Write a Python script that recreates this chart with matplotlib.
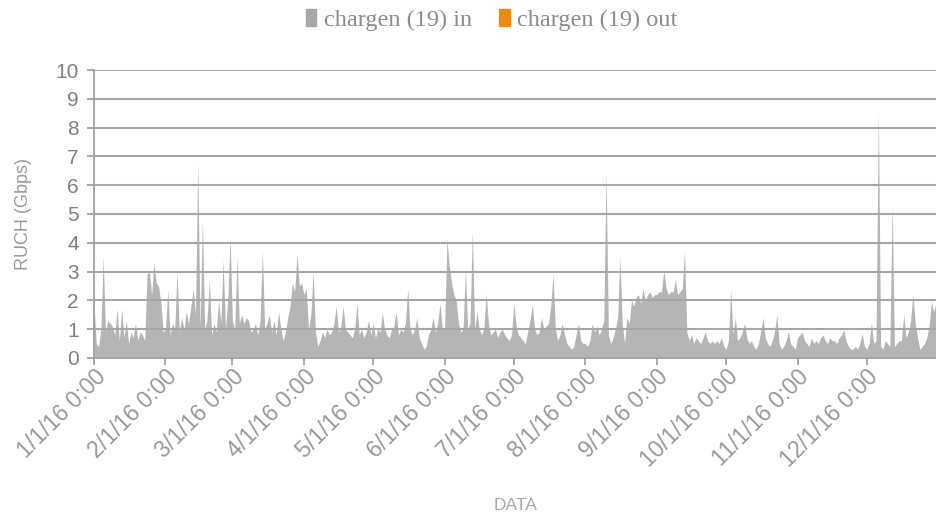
import numpy as np
import pandas as pd
import matplotlib
matplotlib.use('Agg')
import matplotlib.pyplot as plt
import matplotlib.dates as mdates

# daily "in" traffic (Gbps), one list per month of 2016
jan = [1.9, 0.5, 0.4, 1.0, 3.5, 0.9, 1.3, 1.2, 1.1, 0.8, 1.7, 0.6, 1.7, 0.7, 1.3, 0.5,
       0.9, 0.7, 1.2, 0.6, 0.9, 0.8, 0.6, 2.9, 3.0, 2.2, 3.3, 2.6, 2.5, 1.9, 0.9]
feb = [1.0, 2.35, 0.8, 1.2, 1.0, 3.0, 0.9, 1.4, 1.0, 1.6, 1.2, 1.8, 2.4, 1.5, 6.8,
       1.0, 4.8, 1.0, 1.3, 2.7, 0.8, 1.2, 0.9, 2.0, 1.2, 3.4, 1.0, 2.0, 4.2]
mar = [1.3, 1.0, 3.5, 1.2, 1.5, 1.2, 1.4, 1.3, 0.9, 1.0, 1.2, 0.8, 1.3, 3.75, 1.0, 1.2,
       1.5, 0.9, 1.3, 0.8, 1.6, 1.0, 0.6, 0.9, 1.4, 1.8, 2.6, 2.3, 3.6, 2.5, 2.6]
apr = [2.2, 2.4, 1.0, 1.5, 3.0, 0.9, 0.4, 0.6, 0.9, 0.7, 1.0, 0.8, 0.9, 1.2, 1.8,
       0.9, 1.1, 1.8, 1.0, 0.9, 0.8, 0.7, 1.0, 1.9, 0.8, 1.0, 0.7, 0.9, 1.3, 0.8]
may = [1.2, 0.7, 1.0, 0.9, 1.55, 1.0, 0.8, 0.7, 1.0, 1.1, 1.6, 0.8, 1.0, 0.9, 1.2, 2.4,
       1.0, 0.8, 1.0, 1.4, 0.7, 0.5, 0.3, 0.4, 0.8, 1.0, 1.4, 0.9, 1.2, 1.9, 1.0]
jun = [1.0, 4.15, 3.2, 2.6, 2.2, 2.0, 1.2, 0.9, 1.0, 3.1, 1.0, 1.2, 4.4, 1.0, 1.6,
       1.0, 0.8, 1.0, 2.25, 1.2, 0.8, 0.9, 1.0, 0.7, 0.9, 1.0, 0.8, 0.7, 0.6, 0.8]
jul = [1.9, 1.1, 0.8, 0.7, 0.6, 0.5, 0.9, 1.3, 1.85, 1.0, 0.8, 0.9, 1.4, 1.0, 1.1, 1.2,
       1.8, 2.9, 1.0, 0.6, 0.8, 1.2, 0.8, 0.5, 0.4, 0.3, 0.4, 0.8, 1.2, 0.6, 0.5]
aug = [0.5, 0.4, 0.6, 1.2, 0.9, 1.1, 0.8, 1.0, 1.3, 6.45, 0.8, 0.5, 0.7, 1.0, 1.4, 3.5,
       1.2, 0.5, 1.4, 1.2, 2.0, 1.8, 2.1, 2.2, 1.9, 2.4, 2.0, 2.2, 2.3, 2.1, 2.2]
sep = [2.2, 2.3, 2.3, 3.05, 2.4, 2.2, 2.3, 2.3, 2.7, 2.2, 2.3, 2.4, 3.7, 0.9, 0.6,
       0.8, 0.5, 0.7, 0.6, 0.5, 0.7, 0.9, 0.6, 0.5, 0.6, 0.5, 0.6, 0.5, 0.7, 0.4]
oct = [0.3, 0.6, 2.35, 0.8, 1.4, 0.6, 0.7, 0.9, 1.2, 0.7, 0.5, 0.6, 0.4, 0.3, 0.5, 0.9,
       1.4, 0.7, 0.5, 0.4, 0.6, 0.9, 1.5, 0.5, 0.3, 0.4, 0.6, 0.9, 0.5, 0.4, 0.3]
nov = [0.7, 0.8, 0.9, 0.6, 0.5, 0.4, 0.7, 0.5, 0.6, 0.5, 0.7, 0.8, 0.6, 0.5, 0.7,
       0.6, 0.6, 0.5, 0.7, 0.8, 0.97, 0.6, 0.4, 0.3, 0.3, 0.4, 0.3, 0.5, 0.85, 0.4]
dec = [0.3, 0.5, 1.2, 0.5, 0.6, 8.6, 0.4, 0.3, 0.6, 0.5, 0.4, 5.3, 0.4, 0.5, 0.6, 0.6,
       1.5, 0.7, 0.9, 1.3, 2.2, 1.2, 0.7, 0.3, 0.4, 0.5, 0.7, 1.1, 1.95, 1.6, 1.9]

# "out" traffic: only a few tiny blips, zero otherwise
out_dates = ['2016-05-23', '2016-08-14', '2016-08-27', '2016-09-16', '2016-10-21']
out_vals = [0.06, 0.05, 0.05, 0.05, 0.06]

tick_labels = ['1/1/16 0:00', '2/1/16 0:00', '3/1/16 0:00', '4/1/16 0:00',
               '5/1/16 0:00', '6/1/16 0:00', '7/1/16 0:00', '8/1/16 0:00',
               '9/1/16 0:00', '10/1/16 0:00', '11/1/16 0:00', '12/1/16 0:00']

dates = pd.date_range('2016-01-01', '2016-12-31', freq='D')
in_vals = jan + feb + mar + apr + may + jun + jul + aug + sep + oct + nov + dec
assert len(in_vals) == len(dates)
in_series = pd.Series(in_vals, index=dates)
out_series = pd.Series(out_vals, index=pd.to_datetime(out_dates)).reindex(dates, fill_value=0.0)

GRAY = '#B5B5B5'
ORANGE = '#EE8A12'
TEXT = '#999999'

fig = plt.figure(figsize=(9.36, 5.15), dpi=100)
ax = fig.add_axes([0.1004, 0.305, 0.8996, 0.559])

ax.fill_between(in_series.index, in_series.values, 0, color=GRAY, lw=0, zorder=1)
ax.fill_between(out_series.index, out_series.values, 0, color=ORANGE, lw=0, zorder=1.5)

ax.set_ylim(0, 10)
ax.set_yticks(range(0, 11))
ax.set_xlim(pd.Timestamp('2016-01-01'), pd.Timestamp('2016-12-31'))

month_starts = pd.date_range('2016-01-01', '2016-12-01', freq='MS')
ax.set_xticks(month_starts)
ax.set_xticklabels(tick_labels, rotation=45, ha='right', va='top', rotation_mode='anchor',
                   fontsize=16.5, color=TEXT, family=['Liberation Sans Narrow', 'Liberation Sans'])
for lab in ax.get_yticklabels():
    lab.set_family('Liberation Sans')
ax.tick_params(axis='y', labelsize=15, labelcolor='#808080', length=5, color='#999999', width=1.2, pad=6)
ax.tick_params(axis='x', length=5, color='#999999', width=1.2, pad=0)

ax.set_axisbelow(False)
ax.yaxis.grid(True, color='#A6A6A6', lw=1.5)
ax.xaxis.grid(False)
for side in ['top', 'right']:
    ax.spines[side].set_visible(False)
ax.spines['left'].set_color('#999999')
ax.spines['bottom'].set_color('#999999')
ax.spines['left'].set_linewidth(1.2)
ax.spines['bottom'].set_linewidth(1.2)

ax.set_ylabel('RUCH (Gbps)', fontsize=13, color='#9a9a9a', family='Liberation Sans', labelpad=17)
fig.text(0.551, 0.003, 'DATA', ha='center', va='bottom', fontsize=12.5, color='#a8a8a8',
         family='Liberation Sans')

# legend at the top
h_in = plt.Rectangle((0, 0), 1, 1, color='#A8A8A8')
h_out = plt.Rectangle((0, 0), 1, 1, color=ORANGE)
leg = fig.legend([h_in, h_out], ['chargen (19) in', 'chargen (19) out'], loc='center',
                 bbox_to_anchor=(0.525, 0.962), ncol=2, frameon=False, handlelength=0.45,
                 handleheight=0.7, handletextpad=0.3, columnspacing=1.1,
                 prop={'family': 'Liberation Serif', 'size': 17.5})
for t in leg.get_texts():
    t.set_color('#8C8C8C')

fig.savefig('out.png', dpi=100, facecolor='white')
